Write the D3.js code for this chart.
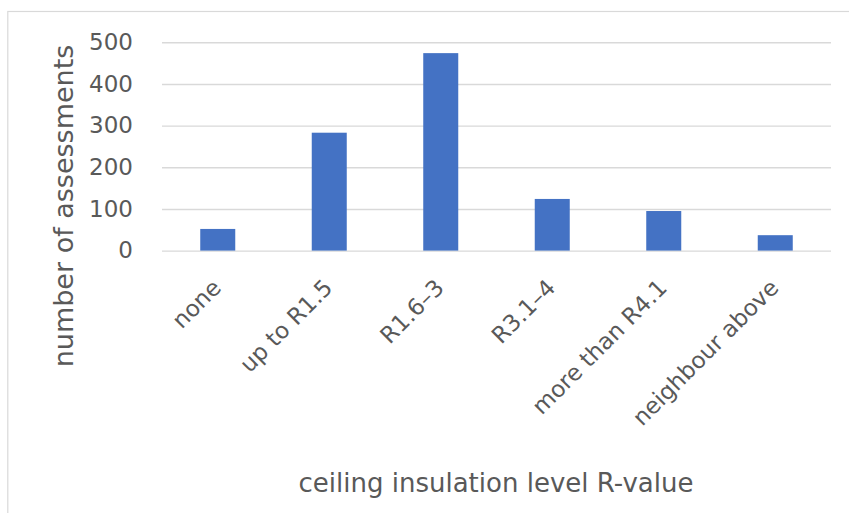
<!DOCTYPE html>
<html>
<head>
<meta charset="utf-8">
<script src="https://cdn.jsdelivr.net/npm/d3@7"></script>
<style>
  html, body { margin: 0; padding: 0; background: #ffffff; }
  svg { display: block; }
  text { font-family: "DejaVu Sans", "Open Sans", sans-serif; fill: #595959; }
</style>
</head>
<body>
<svg id="chart" width="849" height="513"></svg>
<script>
// Ceiling insulation assessments by R-value band
const categories = ["none", "up to R1.5", "R1.6\u20133", "R3.1\u20134", "more than R4.1", "neighbour above"];
const assessments = [52, 283, 474, 124, 95, 37];
const yTicks = [0, 100, 200, 300, 400, 500];
const xTitle = "ceiling insulation level R-value";
const yTitle = "number of assessments";

const FONT = "'DejaVu Sans', sans-serif";
const svg = d3.select("#chart");
const W = 849, H = 513;
const plot = { left: 162, right: 831, top: 42.3, bottom: 250.6 };

// chart area frame (only the top and left edges fall inside the view)
svg.append("rect")
  .attr("x", 7.8).attr("y", 11.5)
  .attr("width", W + 20).attr("height", H + 20)
  .attr("fill", "#ffffff")
  .attr("stroke", "#d9d9d9").attr("stroke-width", 1.2);

const x = d3.scaleBand()
  .domain(categories)
  .range([plot.left, plot.right])
  .paddingInner(0.686)
  .paddingOuter(0.343);

const y = d3.scaleLinear()
  .domain([0, 500])
  .range([plot.bottom, plot.top]);

// horizontal gridlines + value labels
const yAxis = d3.axisLeft(y)
  .tickValues(yTicks)
  .tickSize(-(plot.right - plot.left))
  .tickPadding(29)
  .tickFormat(d3.format("d"));

const gy = svg.append("g")
  .attr("transform", `translate(${plot.left},0)`)
  .call(yAxis);
gy.select(".domain").remove();
gy.selectAll(".tick line")
  .attr("stroke", "#d9d9d9")
  .attr("stroke-width", 1.4);
gy.selectAll(".tick text")
  .attr("font-size", 23)
  .attr("fill", "#595959")
  .attr("font-family", FONT);

// bars
svg.append("g")
  .selectAll("rect")
  .data(categories.map((c, i) => ({ c, v: assessments[i] })))
  .join("rect")
  .attr("x", d => x(d.c))
  .attr("y", d => y(d.v))
  .attr("width", x.bandwidth())
  .attr("height", d => y(0) - y(d.v))
  .attr("fill", "#4472c4");

// category labels, rotated
const xAxis = d3.axisBottom(x).tickSize(0).tickPadding(0);
const gx = svg.append("g")
  .attr("transform", `translate(0,${plot.bottom})`)
  .call(xAxis);
gx.select(".domain").remove();
gx.selectAll(".tick text")
  .attr("font-size", 23)
  .attr("fill", "#595959")
  .attr("font-family", FONT)
  .attr("text-anchor", "end")
  .attr("dy", null)
  .attr("y", 0)
  .attr("transform", "translate(-1,33) rotate(-45)")
  .attr("dominant-baseline", "central");

// axis titles
svg.append("text")
  .attr("x", 496).attr("y", 492)
  .attr("text-anchor", "middle")
  .attr("font-size", 26)
  .text(xTitle);

svg.append("text")
  .attr("transform", "translate(73,206) rotate(-90)")
  .attr("text-anchor", "middle")
  .attr("font-size", 27)
  .text(yTitle);
</script>
</body>
</html>
